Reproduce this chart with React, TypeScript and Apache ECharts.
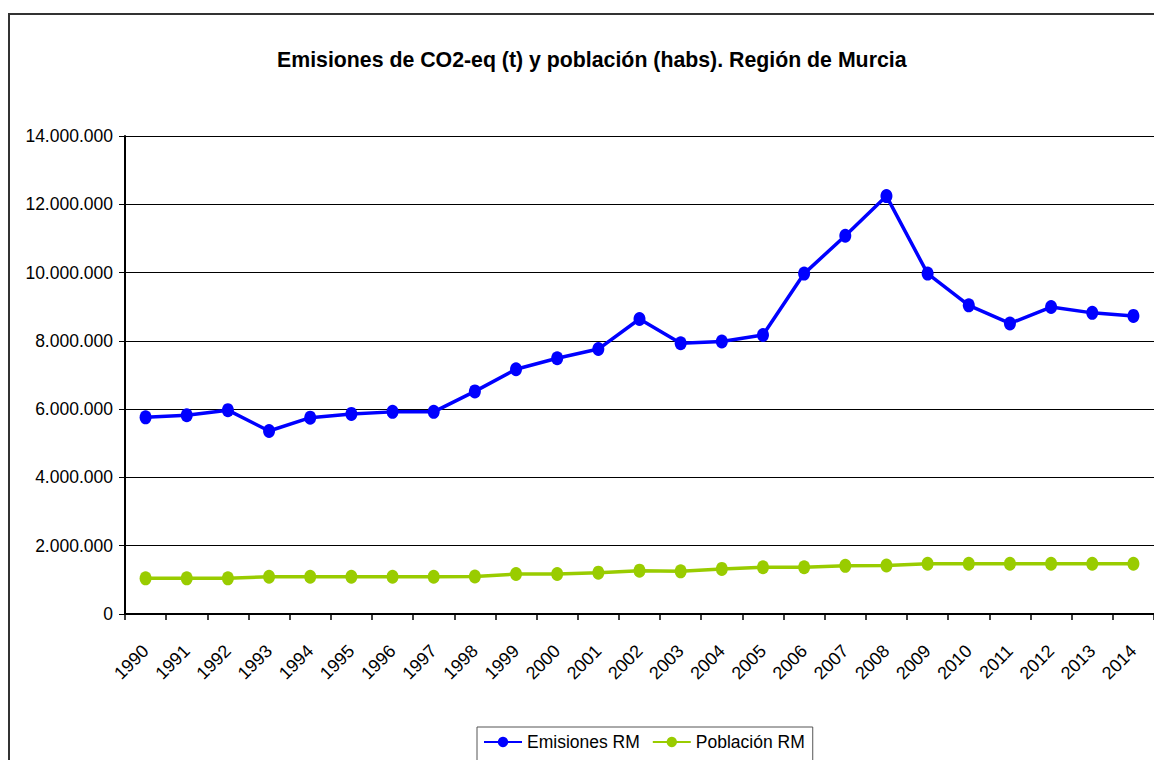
import React, { useEffect, useRef } from "react";
import * as echarts from "echarts";

const years = ["1990","1991","1992","1993","1994","1995","1996","1997","1998","1999","2000","2001","2002","2003","2004","2005","2006","2007","2008","2009","2010","2011","2012","2013","2014"];
const emisiones = [5760000,5820000,5970000,5360000,5750000,5860000,5920000,5920000,6520000,7170000,7490000,7760000,8640000,7930000,7980000,8170000,9970000,11080000,12240000,9970000,9040000,8510000,8990000,8820000,8730000];
const poblacion = [1045000,1045000,1045000,1090000,1090000,1090000,1090000,1090000,1100000,1170000,1170000,1210000,1270000,1250000,1320000,1370000,1370000,1410000,1420000,1470000,1470000,1470000,1470000,1470000,1470000];
const titleText = "Emisiones de CO2-eq (t) y población (habs). Región de Murcia";
const seriesNames = ["Emisiones RM", "Población RM"];

const fmt = (v: number) => String(Math.round(v)).replace(/\B(?=(\d{3})+(?!\d))/g, ".");

export default function App() {
  const ref = useRef<HTMLDivElement>(null);
  useEffect(() => {
    const chart = echarts.init(ref.current!, null, { renderer: "svg" });
    const font = "'Liberation Sans', Arial, sans-serif";
    chart.setOption({
      animation: false,
      backgroundColor: "#ffffff",
      textStyle: { fontFamily: font },
      title: {
        text: titleText,
        left: 272,
        top: 44,
        textStyle: { fontFamily: font, fontSize: 21.3, fontWeight: "bold", color: "#000" },
      },
      graphic: [
        {
          type: "rect",
          shape: { x: 9, y: 14, width: 1160, height: 760 },
          style: { fill: "none", stroke: "#333", lineWidth: 2 },
          silent: true,
          z: 100,
        },
      ],
      legend: {
        left: 477,
        top: 727,
        orient: "horizontal",
        itemWidth: 38,
        itemHeight: 13,
        itemGap: 12,
        borderColor: "#555",
        borderWidth: 1,
        borderRadius: 0,
        padding: [6, 8, 30, 6],
        textStyle: { fontFamily: font, fontSize: 17.5, color: "#000" },
        data: seriesNames,
      },
      grid: { left: 125, top: 136, right: -4, bottom: 146 },
      xAxis: {
        type: "category",
        data: years,
        boundaryGap: true,
        axisLine: { show: true, lineStyle: { color: "#000", width: 2 } },
        axisTick: { show: true, length: 6, lineStyle: { color: "#000", width: 1.5 } },
        axisLabel: { rotate: 45, margin: 34, fontSize: 18, color: "#000", fontFamily: font },
      },
      yAxis: {
        type: "value",
        min: 0,
        max: 14000000,
        interval: 2000000,
        axisLine: { show: true, lineStyle: { color: "#000", width: 2 } },
        axisTick: { show: true, length: 6, lineStyle: { color: "#000", width: 1 } },
        axisLabel: { fontSize: 17.5, color: "#000", margin: 12, fontFamily: font, formatter: (v: number) => fmt(v) },
        splitLine: { show: true, lineStyle: { color: "#000", width: 1 } },
      },
      series: [
        {
          name: seriesNames[0],
          type: "line",
          data: emisiones,
          symbol: "circle",
          symbolSize: [12, 14],
          lineStyle: { color: "#0000ff", width: 3.5 },
          itemStyle: { color: "#0000ff" },
        },
        {
          name: seriesNames[1],
          type: "line",
          data: poblacion,
          symbol: "circle",
          symbolSize: [12, 14],
          lineStyle: { color: "#99cc00", width: 3.5 },
          itemStyle: { color: "#99cc00" },
        },
      ],
    });
    return () => chart.dispose();
  }, []);
  return <div ref={ref} style={{ position: "fixed", left: 0, top: 0, width: 1154, height: 760 }} />;
}
